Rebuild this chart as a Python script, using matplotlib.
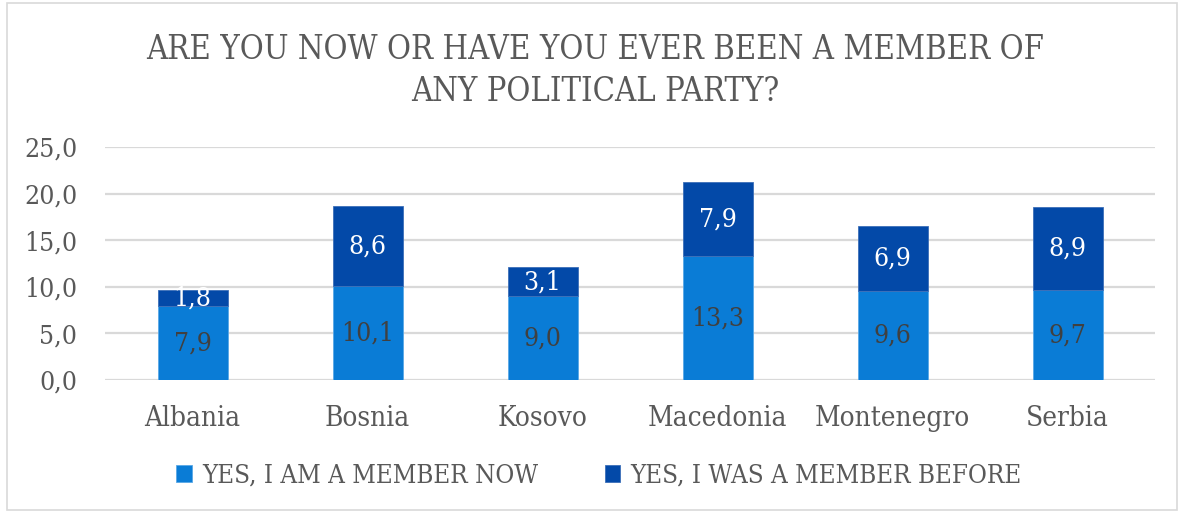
import numpy as np
import matplotlib.pyplot as plt
from matplotlib.patches import Rectangle

countries = ["Albania", "Bosnia", "Kosovo", "Macedonia", "Montenegro", "Serbia"]
member_now = [7.9, 10.1, 9.0, 13.3, 9.6, 9.7]
member_before = [1.8, 8.6, 3.1, 7.9, 6.9, 8.9]
series_names = ["YES, I AM A MEMBER NOW", "YES, I WAS A MEMBER BEFORE"]
yticks = [0, 5, 10, 15, 20, 25]

c_now = "#0A7CD6"
c_before = "#0349A8"
txt = "#595959"

plt.rcParams['font.family'] = ['DejaVu Serif']
plt.rcParams['font.stretch'] = 'condensed'

fig = plt.figure(figsize=(11.84, 5.13), dpi=100)
ax = fig.add_axes([105 / 1184, 1 - 380 / 513, 1050 / 1184, 233 / 513])

x = np.arange(len(countries))
b1 = ax.bar(x, member_now, width=0.4, color=c_now, edgecolor="#5AA8E6", linewidth=0.6,
            label=series_names[0], zorder=3)
b2 = ax.bar(x, member_before, width=0.4, bottom=member_now, color=c_before,
            edgecolor="#3C6FB8", linewidth=0.6, label=series_names[1], zorder=3)

def fmt(v):
    return f"{v:.1f}".replace(".", ",")

# values inside each segment
for xi, a, b in zip(x, member_now, member_before):
    ax.text(xi, a / 2, fmt(a), ha="center", va="center", fontsize=19, color="#404040", zorder=4)
    ax.text(xi, a + b / 2, fmt(b), ha="center", va="center", fontsize=19, color="white", zorder=4)

ax.set_xlim(-0.5, len(countries) - 0.5)
ax.set_ylim(0, 25)
ax.set_yticks(yticks)
ax.set_yticklabels([fmt(v) for v in yticks], fontsize=19, color=txt)
ax.set_xticks(x)
ax.set_xticklabels(countries, fontsize=20, color=txt)
ax.tick_params(length=0)
ax.tick_params(axis="y", pad=20)
ax.tick_params(axis="x", pad=18)
ax.yaxis.grid(True, color="#D9D9D9", linewidth=1.6, zorder=0)
for s in ax.spines.values():
    s.set_visible(False)

fig.text(595 / 1184, 1 - 71 / 513, "ARE YOU NOW OR HAVE YOU EVER BEEN A MEMBER OF\nANY POLITICAL PARTY?",
         ha="center", va="center", fontsize=23.5, color=txt, linespacing=1.4)

fig.legend(handles=[b1, b2], loc="center", bbox_to_anchor=(599 / 1184, 1 - 475 / 513), ncol=2,
           frameon=False, fontsize=18.5, labelcolor=txt, handlelength=0.6, handleheight=0.6,
           handletextpad=0.4, columnspacing=2.6)

fig.patches.append(Rectangle((7 / 1184, 3 / 513), 1170 / 1184, 507 / 513, transform=fig.transFigure,
                             fill=False, edgecolor="#D9D9D9", linewidth=1.2))

fig.savefig("out.png", dpi=100)
